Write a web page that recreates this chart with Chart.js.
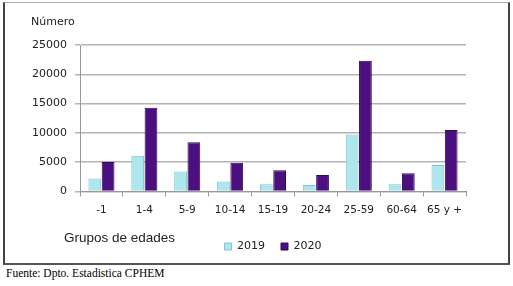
<!DOCTYPE html>
<html>
<head>
  <meta charset="utf-8">
  <title>Número por grupos de edades 2019 - 2020</title>
  <script src="https://cdn.jsdelivr.net/npm/chart.js"></script>
  <style>
    body {
      margin: 0;
      background: #fff;
      width: 513px;
      height: 286px;
      position: relative;
      overflow: hidden;
    }
    /* frame around the chart */
    .frame {
      position: absolute;
      left: 3px;
      top: 2px;
      width: 503px;
      height: 260px;
      border-top: 1px solid #b0b0b0;
      border-left: 2px solid #444;
      border-right: 2px solid #444;
      border-bottom: 2px solid #555;
    }
    .chart-container {
      position: absolute;
      left: 0;
      top: 0;
      width: 513px;
      height: 262px;
    }
    .source {
      position: absolute;
      left: 6px;
      top: 267px;
      font-family: "Liberation Serif", "Times New Roman", serif;
      font-size: 11.5px;
      color: #000;
    }
  </style>
</head>
<body>
  <div class="frame"></div>
  <div class="chart-container">
    <canvas id="edadesChart" width="513" height="262"></canvas>
  </div>
  <div class="source">Fuente: Dpto. Estadistica CPHEM</div>

  <script>
    // Grupos de edades (categorías)
    const grupos = ["-1", "1-4", "5-9", "10-14", "15-19", "20-24", "25-59", "60-64", "65 y +"];
    // Valores
    const valores2019 = [2200, 6100, 3400, 1700, 1200, 1100, 9700, 1200, 4500];
    const valores2020 = [5000, 14300, 8400, 4900, 3600, 2800, 22300, 3100, 10500];
    const seriesLabels = ["2019", "2020"];
    const yTicks = [0, 5000, 10000, 15000, 20000, 25000];

    // texts that sit outside the axes: "Número" and "Grupos de edades"
    const extraLabels = {
      id: 'extraLabels',
      afterDraw(chart) {
        const ctx = chart.ctx;
        ctx.save();
        ctx.fillStyle = '#222';
        ctx.textBaseline = 'middle';
        ctx.textAlign = 'left';
        ctx.font = '11px "DejaVu Sans", sans-serif';
        ctx.fillText('Número', 31, 22);
        ctx.font = '13.5px "Liberation Sans", Arial, sans-serif';
        ctx.fillText('Grupos de edades', 64, 238);
        ctx.restore();
      }
    };

    const ctx = document.getElementById('edadesChart').getContext('2d');
    const edadesChart = new Chart(ctx, {
      type: 'bar',
      data: {
        labels: grupos,
        datasets: [
          {
            label: seriesLabels[0],
            data: valores2019,
            backgroundColor: '#aee6ee',
            borderColor: '#7cc6d2',
            borderWidth: 1,
            barPercentage: 0.96,
            categoryPercentage: 0.62
          },
          {
            label: seriesLabels[1],
            data: valores2020,
            backgroundColor: '#4b0f80',
            borderColor: '#2f0654',
            borderWidth: 1,
            barPercentage: 0.96,
            categoryPercentage: 0.62
          }
        ]
      },
      options: {
        responsive: false,
        animation: false,
        layout: {
          padding: { top: 45, right: 47, left: 0, bottom: 0 }
        },
        plugins: {
          legend: {
            position: 'bottom',
            fullSize: false,
            labels: {
              boxWidth: 7,
              boxHeight: 7,
              padding: 16,
              color: '#222',
              font: { family: '"DejaVu Sans", sans-serif', size: 11 }
            }
          },
          title: { display: false },
          tooltip: { enabled: false }
        },
        scales: {
          x: {
            grid: {
              display: true,
              drawOnChartArea: false,
              color: '#999',
              tickLength: 5
            },
            border: { color: '#999' },
            ticks: {
              padding: 8,
              color: '#222',
              font: { family: '"DejaVu Sans", sans-serif', size: 10.5 }
            }
          },
          y: {
            min: 0,
            max: 25000,
            afterBuildTicks(axis) {
              axis.ticks = yTicks.map(v => ({ value: v }));
            },
            afterFit(axis) {
              axis.width = 80;
            },
            grid: {
              color: '#b4b4b4',
              lineWidth: 1.5,
              tickLength: 5
            },
            border: { color: '#999' },
            ticks: {
              padding: 8,
              color: '#222',
              font: { family: '"DejaVu Sans", sans-serif', size: 11 },
              callback: function(value) {
                return String(value);
              }
            }
          }
        }
      },
      plugins: [extraLabels]
    });
  </script>
</body>
</html>
